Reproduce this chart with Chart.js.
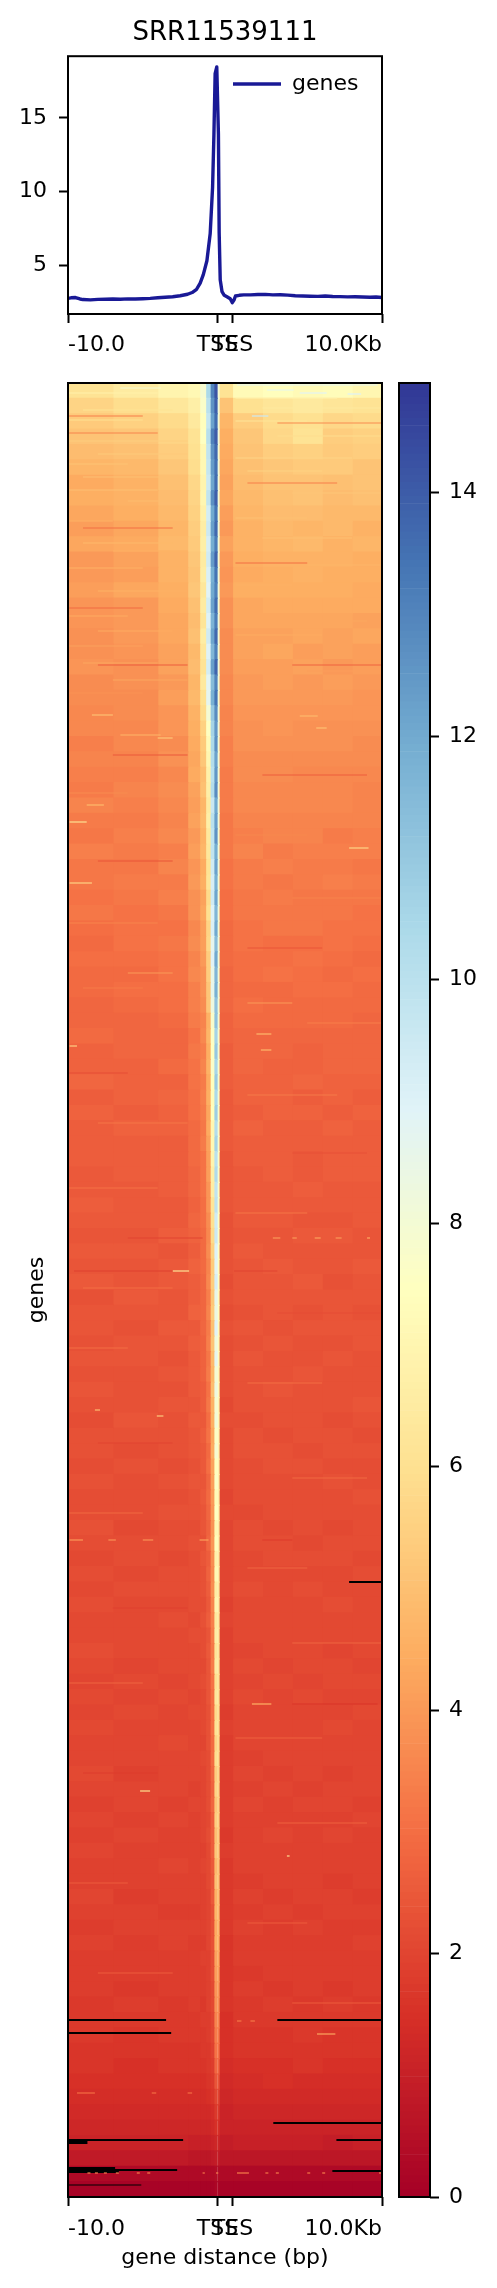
<!DOCTYPE html>
<html>
<head>
<meta charset="utf-8">
<title>SRR11539111</title>
<script src="https://cdn.jsdelivr.net/npm/chart.js@4/dist/chart.umd.js"></script>
<style>
  html, body { margin: 0; padding: 0; background: #fff; }
  canvas { position: absolute; }
</style>
</head>
<body>
<canvas id="profile" width="392" height="370" style="left:0px;top:0px"></canvas>
<canvas id="heat" width="392" height="1918" style="left:0px;top:370px"></canvas>
<canvas id="cbar" width="105" height="1918" style="left:392px;top:370px"></canvas>
<script>
// axis ticks, in kb (0 = TSS, 1 = TES)
var xTickValues = [-10, 0, 1, 11];
var xTickLabels = ['-10.0', 'TSS', 'TES', '10.0Kb'];
var profileTicks = [5, 10, 15];
var cbarTicks = [0, 2, 4, 6, 8, 10, 12, 14];
var cbarMax = 14.9;

// mean profile
var profileX = [-10,-9.8,-9.5,-9.2,-9,-8.5,-8,-7.5,-7,-6.5,-6,-5.5,-5,-4.5,-4,-3.5,-3,-2.5,-2,-1.7,-1.4,-1.16,-0.95,-0.71,-0.49,-0.33,-0.24,-0.16,-0.05,0.06,0.11,0.18,0.3,0.45,0.63,0.85,0.99,1.1,1.2,1.45,1.75,2.2,2.7,3.2,3.7,4.2,4.7,5.2,5.7,6.2,6.7,7.2,7.7,8.2,8.7,9.2,9.7,10.2,10.6,11];
var profileY = [2.74,2.78,2.8,2.7,2.66,2.64,2.67,2.68,2.7,2.68,2.71,2.7,2.72,2.74,2.78,2.82,2.85,2.92,3.02,3.14,3.36,3.78,4.35,5.3,7.15,10.3,13.9,18.0,18.46,13.9,7.2,4.0,3.2,2.95,2.85,2.72,2.45,2.62,2.9,2.95,2.98,2.98,3.0,3.01,2.98,2.99,2.96,2.92,2.9,2.89,2.88,2.9,2.87,2.86,2.84,2.85,2.83,2.82,2.83,2.8];

// heatmap column edges in kb
var colEdges = [-10,-7,-4,-2,-1.2,-0.8,-0.5,-0.25,0,0.1,1,3,5,7,9,11];

// heatmap values, one row per band of genes from top to bottom
var heatValues = [
[6.1,6.5,6.9,7.1,7.9,10.4,13.0,14.2,8.0,6.1,7.2,7.4,7.2,7.3,7.0],
[5.6,5.9,6.3,6.7,7.7,10.0,12.6,13.9,8.1,5.1,6.0,6.2,6.4,6.2,6.1],
[5.3,5.5,5.8,6.4,7.4,9.7,12.2,13.6,8.0,4.7,5.4,5.8,6.0,5.7,5.8],
[5.1,5.2,5.6,6.1,7.5,10.1,13.1,14.0,8.2,4.5,5.2,5.7,6.1,5.4,5.5],
[4.9,5.0,5.4,6.0,7.1,9.8,12.6,13.7,7.9,4.4,5.1,5.4,5.5,5.3,5.4],
[4.7,4.8,5.2,5.9,7.1,9.7,12.4,13.5,8.1,4.3,5.0,5.2,5.3,5.3,5.1],
[4.4,4.6,5.0,5.7,6.9,9.5,12.1,13.6,8.0,4.2,4.9,5.1,5.1,5.0,5.1],
[4.5,4.6,4.9,5.6,7.0,9.8,12.7,13.9,8.0,4.3,4.8,5.0,5.1,4.9,5.0],
[4.3,4.5,4.8,5.5,6.8,9.3,12.0,13.4,7.9,4.1,4.7,4.9,4.9,4.8,4.8],
[4.1,4.3,4.7,5.4,6.6,9.5,12.3,13.7,8.1,4.0,4.6,4.8,4.7,4.8,4.6],
[4.3,4.4,4.8,5.3,6.7,9.2,11.9,13.2,8.0,4.2,4.6,4.7,4.8,4.6,4.7],
[4.0,4.2,4.6,5.2,6.5,9.4,12.4,13.8,7.9,4.0,4.5,4.6,4.6,4.6,4.5],
[4.0,4.1,4.6,5.1,6.6,9.1,11.8,13.4,8.1,3.9,4.4,4.5,4.6,4.5,4.5],
[4.1,4.3,4.5,5.2,6.3,8.9,12.0,13.1,8.0,4.0,4.5,4.5,4.5,4.5,4.4],
[3.9,4.0,4.4,5.0,6.5,9.3,12.2,13.6,7.9,3.8,4.3,4.4,4.4,4.4,4.4],
[3.9,4.0,4.3,4.9,6.2,9.0,11.7,13.2,8.1,3.8,4.3,4.3,4.3,4.3,4.2],
[3.8,4.0,4.3,5.0,6.6,9.4,12.1,13.7,8.0,3.7,4.2,4.2,4.3,4.2,4.3],
[3.8,3.9,4.2,4.8,6.3,9.0,11.6,13.1,7.9,3.7,4.2,4.3,4.1,4.2,4.1],
[3.9,3.8,4.2,4.9,6.1,9.3,12.3,13.8,8.1,3.7,4.1,4.1,4.2,4.0,4.1],
[3.7,3.8,4.0,4.7,6.4,8.8,11.4,13.0,8.0,3.6,4.0,4.1,4.0,4.1,4.0],
[3.7,3.7,4.1,4.8,6.0,8.7,11.8,13.4,7.9,3.6,4.0,4.0,4.0,4.0,3.9],
[3.6,3.7,3.9,4.6,5.8,8.0,11.0,12.8,8.0,3.5,3.9,3.9,3.9,3.9,3.9],
[3.6,3.6,3.9,4.5,5.5,7.5,10.6,12.5,8.1,3.5,3.8,3.9,3.8,3.8,3.8],
[3.4,3.6,3.7,4.4,5.3,7.2,10.4,12.7,7.9,3.4,3.8,3.8,3.8,3.8,3.7],
[3.5,3.5,3.8,4.3,5.2,7.0,10.2,12.2,8.0,3.4,3.7,3.7,3.7,3.7,3.7],
[3.4,3.4,3.6,4.4,4.9,6.8,10.0,12.5,8.0,3.3,3.7,3.7,3.6,3.6,3.6],
[3.3,3.5,3.7,4.2,5.0,6.7,10.2,12.8,7.9,3.3,3.6,3.6,3.6,3.6,3.5],
[3.5,3.4,3.6,4.1,4.7,6.5,9.6,12.0,8.1,3.3,3.6,3.6,3.6,3.6,3.5],
[3.3,3.3,3.5,4.2,4.8,6.7,10.0,12.3,8.0,3.2,3.5,3.5,3.5,3.5,3.5],
[3.2,3.4,3.6,4.0,4.6,6.4,9.8,12.6,7.9,3.2,3.4,3.5,3.5,3.3,3.4],
[3.4,3.3,3.4,4.1,4.7,6.3,9.8,11.9,8.0,3.2,3.5,3.3,3.4,3.4,3.4],
[3.2,3.2,3.5,3.9,4.4,6.1,9.4,12.2,8.1,3.1,3.3,3.4,3.3,3.3,3.2],
[3.2,3.3,3.3,4.0,4.5,6.2,9.2,11.8,7.9,3.1,3.3,3.2,3.3,3.4,3.3],
[3.1,3.2,3.4,3.8,4.2,5.8,9.4,12.1,8.0,3.0,3.2,3.3,3.2,3.2,3.2],
[3.2,3.1,3.2,3.8,4.3,6.0,9.0,11.6,8.0,3.0,3.2,3.2,3.2,3.2,3.1],
[3.0,3.1,3.1,3.6,4.1,5.6,9.1,12.0,7.9,2.9,3.1,3.2,3.2,3.1,3.1],
[2.9,3.1,3.2,3.7,4.1,5.7,8.7,11.4,8.1,2.9,3.1,3.0,3.0,3.1,3.0],
[3.0,3.0,3.1,3.5,4.0,5.4,8.9,12.0,8.0,2.9,3.0,3.0,3.1,3.0,2.9],
[2.9,2.9,3.1,3.6,3.8,5.4,8.5,11.6,7.9,2.8,3.0,3.1,3.0,2.9,3.0],
[2.9,3.0,3.0,3.4,3.8,5.2,8.6,11.8,8.0,2.8,2.9,2.9,3.0,3.0,2.9],
[2.8,2.9,3.0,3.4,3.7,5.2,8.3,11.2,8.0,2.8,3.0,2.9,2.9,2.9,2.9],
[2.8,2.8,2.9,3.3,3.5,4.6,7.8,11.2,7.9,2.7,2.9,2.9,2.9,2.9,2.8],
[2.9,2.8,2.8,3.1,3.6,4.7,7.6,10.6,7.8,2.7,2.8,2.8,2.8,2.8,2.8],
[2.7,2.8,2.8,3.2,3.4,4.5,7.5,11.0,7.9,2.6,2.8,2.8,2.7,2.8,2.8],
[2.7,2.7,2.9,3.1,3.5,4.6,7.7,10.5,7.7,2.6,2.8,2.7,2.7,2.8,2.8],
[2.8,2.7,2.7,3.1,3.3,4.4,7.4,10.9,7.8,2.6,2.7,2.7,2.8,2.7,2.7],
[2.6,2.7,2.8,3.0,3.4,4.5,7.3,10.4,7.8,2.5,2.7,2.7,2.6,2.7,2.6],
[2.7,2.6,2.7,3.0,3.3,4.3,7.4,10.8,7.7,2.5,2.6,2.7,2.7,2.6,2.7],
[2.6,2.7,2.7,2.9,3.2,4.4,7.0,10.2,7.8,2.5,2.7,2.6,2.6,2.7,2.6],
[2.6,2.6,2.6,2.9,3.3,4.2,7.1,10.6,7.7,2.5,2.6,2.6,2.6,2.6,2.6],
[2.6,2.6,2.6,2.9,3.1,4.1,6.9,10.0,7.6,2.4,2.6,2.6,2.5,2.6,2.6],
[2.5,2.6,2.6,2.8,3.1,4.1,6.7,10.3,7.7,2.4,2.5,2.6,2.5,2.6,2.6],
[2.5,2.5,2.6,2.8,3.1,3.9,6.6,9.8,7.6,2.4,2.5,2.5,2.6,2.5,2.5],
[2.6,2.5,2.5,2.7,3.0,3.9,6.2,9.9,7.7,2.4,2.5,2.5,2.5,2.5,2.5],
[2.5,2.5,2.5,2.8,3.0,3.7,6.0,9.4,7.5,2.3,2.5,2.5,2.4,2.4,2.5],
[2.4,2.4,2.6,2.7,2.9,3.6,5.8,9.5,7.6,2.3,2.4,2.4,2.5,2.5,2.4],
[2.5,2.5,2.4,2.6,2.9,3.7,5.5,9.0,7.5,2.3,2.5,2.4,2.4,2.4,2.4],
[2.4,2.4,2.5,2.7,2.9,3.5,5.3,8.8,7.4,2.3,2.4,2.5,2.4,2.4,2.5],
[2.5,2.4,2.5,2.6,2.8,3.6,5.4,9.2,7.5,2.2,2.4,2.4,2.5,2.3,2.4],
[2.3,2.5,2.4,2.6,2.8,3.4,5.2,8.6,7.3,2.3,2.4,2.4,2.4,2.4,2.4],
[2.4,2.4,2.4,2.7,2.8,3.5,5.3,8.4,7.4,2.2,2.3,2.4,2.3,2.4,2.3],
[2.4,2.3,2.5,2.5,2.8,3.3,5.0,8.9,7.3,2.3,2.4,2.3,2.4,2.4,2.4],
[2.3,2.4,2.4,2.6,2.7,3.4,5.1,8.2,7.2,2.2,2.3,2.4,2.3,2.3,2.4],
[2.4,2.4,2.3,2.5,2.7,3.2,4.8,8.7,7.3,2.2,2.4,2.3,2.3,2.4,2.3],
[2.3,2.3,2.4,2.5,2.7,3.3,4.7,8.0,7.1,2.2,2.3,2.3,2.4,2.3,2.3],
[2.4,2.3,2.3,2.5,2.6,3.1,4.9,8.3,7.2,2.2,2.3,2.4,2.3,2.3,2.3],
[2.3,2.3,2.4,2.4,2.6,3.2,4.6,7.9,7.0,2.1,2.3,2.3,2.3,2.3,2.4],
[2.2,2.4,2.3,2.5,2.5,3.0,4.5,8.1,7.1,2.2,2.2,2.3,2.3,2.2,2.3],
[2.3,2.3,2.3,2.4,2.6,3.1,4.3,7.6,7.0,2.1,2.3,2.2,2.3,2.3,2.2],
[2.3,2.2,2.3,2.4,2.5,2.9,4.4,7.9,6.9,2.1,2.3,2.3,2.2,2.3,2.3],
[2.2,2.3,2.2,2.3,2.5,3.0,4.2,7.4,6.9,2.1,2.2,2.3,2.3,2.2,2.2],
[2.3,2.2,2.3,2.4,2.4,2.8,4.1,7.6,6.8,2.1,2.2,2.2,2.2,2.3,2.2],
[2.2,2.2,2.2,2.3,2.5,2.9,4.0,7.2,6.7,2.0,2.2,2.2,2.2,2.2,2.3],
[2.2,2.2,2.3,2.3,2.4,2.8,3.9,7.5,6.8,2.1,2.1,2.2,2.2,2.2,2.2],
[2.3,2.1,2.2,2.2,2.4,2.7,3.8,7.0,6.6,2.0,2.2,2.1,2.2,2.1,2.2],
[2.2,2.2,2.2,2.3,2.3,2.8,3.9,7.3,6.7,2.0,2.2,2.2,2.1,2.2,2.2],
[2.1,2.2,2.1,2.2,2.4,2.6,3.7,6.8,6.5,2.0,2.1,2.2,2.2,2.2,2.1],
[2.2,2.1,2.2,2.2,2.3,2.7,3.6,7.1,6.6,2.0,2.1,2.1,2.1,2.1,2.2],
[2.1,2.2,2.2,2.2,2.3,2.6,3.7,6.6,6.4,2.0,2.2,2.1,2.2,2.1,2.1],
[2.2,2.1,2.1,2.2,2.2,2.5,3.5,6.9,6.5,1.9,2.1,2.1,2.1,2.2,2.1],
[2.1,2.1,2.2,2.1,2.3,2.6,3.4,6.4,6.3,2.0,2.1,2.1,2.1,2.1,2.1],
[2.1,2.1,2.1,2.2,2.2,2.4,3.3,6.6,6.3,1.9,2.1,2.1,2.1,2.1,2.1],
[2.2,2.1,2.1,2.1,2.2,2.5,3.2,6.2,6.2,1.9,2.0,2.1,2.1,2.0,2.1],
[2.1,2.0,2.1,2.1,2.1,2.4,3.3,6.5,6.2,1.9,2.1,2.0,2.1,2.1,2.0],
[2.0,2.1,2.0,2.1,2.2,2.4,3.1,6.0,6.1,1.9,2.0,2.1,2.0,2.1,2.1],
[2.1,2.0,2.1,2.0,2.1,2.4,3.0,6.3,6.1,1.9,2.1,2.0,2.1,2.0,2.0],
[2.0,2.1,2.0,2.1,2.1,2.3,3.0,5.8,6.0,1.8,2.0,2.0,2.0,2.0,2.1],
[2.1,2.0,2.0,2.0,2.1,2.3,3.0,6.1,5.9,1.9,2.0,2.0,2.0,2.1,2.0],
[2.0,2.0,2.1,2.0,2.0,2.3,2.9,5.6,5.9,1.8,2.0,2.0,2.0,2.0,2.0],
[2.0,2.0,2.0,2.0,2.1,2.2,2.9,5.9,5.8,1.8,1.9,2.0,2.0,2.0,2.0],
[2.1,1.9,2.0,2.0,2.0,2.2,2.8,5.4,5.7,1.8,2.0,1.9,2.0,1.9,2.0],
[2.0,2.0,2.0,1.9,2.0,2.2,2.7,5.6,5.6,1.8,1.9,2.0,1.9,2.0,2.0],
[1.9,2.0,1.9,2.0,2.0,2.2,2.8,5.2,5.6,1.8,2.0,1.9,2.0,2.0,1.9],
[2.0,1.9,2.0,1.9,2.0,2.1,2.6,5.4,5.5,1.8,1.9,1.9,1.9,1.9,2.0],
[1.9,2.0,1.9,1.9,2.0,2.2,2.6,5.0,5.4,1.7,1.9,2.0,1.9,2.0,1.9],
[2.0,1.9,1.9,1.9,1.9,2.1,2.6,5.2,5.3,1.8,1.9,1.9,1.9,1.9,1.9],
[1.9,1.9,2.0,1.9,2.0,2.1,2.5,4.8,5.2,1.7,1.9,1.9,1.9,1.9,1.9],
[1.9,1.9,1.9,1.9,1.9,2.1,2.4,5.0,5.1,1.7,1.8,1.9,1.9,1.8,1.9],
[2.0,1.8,1.9,1.9,1.9,2.0,2.5,4.6,5.0,1.7,1.9,1.8,1.9,1.9,1.8],
[1.9,1.9,1.8,1.8,1.9,2.0,2.3,4.7,4.9,1.7,1.8,1.9,1.8,1.9,1.9],
[1.8,1.9,1.9,1.9,1.9,2.0,2.3,4.4,4.8,1.7,1.9,1.8,1.9,1.8,1.8],
[1.9,1.8,1.9,1.8,1.8,2.0,2.3,4.5,4.6,1.6,1.8,1.8,1.8,1.8,1.9],
[1.8,1.8,1.8,1.8,1.9,1.9,2.2,4.2,4.4,1.6,1.8,1.8,1.8,1.8,1.8],
[1.8,1.8,1.8,1.8,1.8,1.9,2.2,4.1,4.2,1.6,1.7,1.8,1.8,1.8,1.8],
[1.8,1.7,1.8,1.8,1.8,1.9,2.1,3.9,4.0,1.6,1.8,1.7,1.8,1.7,1.8],
[1.7,1.8,1.7,1.8,1.7,1.9,2.1,3.8,3.8,1.6,1.7,1.8,1.7,1.8,1.7],
[1.7,1.7,1.7,1.7,1.8,1.8,2.0,3.5,3.6,1.5,1.7,1.7,1.7,1.7,1.7],
[1.7,1.6,1.7,1.7,1.7,1.8,2.0,3.3,3.3,1.5,1.6,1.6,1.7,1.6,1.6],
[1.6,1.6,1.6,1.6,1.7,1.7,1.9,3.1,3.1,1.5,1.6,1.6,1.6,1.6,1.6],
[1.6,1.5,1.6,1.6,1.6,1.7,1.8,2.8,2.8,1.4,1.5,1.5,1.6,1.5,1.5],
[1.5,1.5,1.5,1.5,1.5,1.6,1.7,2.4,2.4,1.3,1.4,1.5,1.4,1.4,1.4],
[1.4,1.4,1.4,1.4,1.4,1.5,1.6,2.0,2.0,1.2,1.3,1.3,1.3,1.3,1.3],
[1.3,1.3,1.3,1.3,1.3,1.3,1.4,1.7,1.7,1.1,1.2,1.2,1.2,1.2,1.2],
[1.2,1.2,1.2,1.2,1.2,1.2,1.3,1.5,1.5,1.1,1.1,1.1,1.1,1.1,1.1],
[1.1,1.1,1.1,1.0,1.0,1.0,1.1,1.2,1.2,0.9,1.0,1.0,1.0,0.9,1.0],
[0.8,0.8,0.8,0.7,0.7,0.7,0.8,0.9,0.9,0.7,0.7,0.7,0.7,0.7,0.7],
[0.3,0.3,0.3,0.3,0.3,0.3,0.3,0.4,0.4,0.3,0.3,0.3,0.3,0.3,0.3],
[0.1,0.1,0.1,0.1,0.1,0.1,0.1,0.2,0.2,0.1,0.1,0.1,0.1,0.1,0.1]
];

// single genes that stand out from their band: [rank, from kb, to kb, value]
var streaks = [
[2,1.3,10.7,8.8],[5,-6.5,-3.8,8.0],[7,3.3,5.1,8.5],[10,5.5,7.3,8.8],[11,8.7,9.6,9.0],[33,2.3,3.4,9.5],
[10,-10,-4,6.8],[27,-9,-3,6.1],[37,-10,-5,6.0],[58,-10,-2,5.4],[71,-8,-2,5.3],[81,-10,-6,5.1],[94,-9,-3,5.0],
[107,-10,-4,5.0],[118,-6,-2,4.9],[138,-10,-7,4.6],[160,-9,-3,4.8],[168,-7,-2,4.5],[185,-10,-5,4.6],[208,-8,-2,4.6],
[233,-10,-6,4.4],[248,-8,-3,4.4],[263,-10,-5,4.2],[280,-9,-4,4.3],[297,-7,-2,4.3],
[15,1.2,8,6.9],[25,3,11,6.4],[38,1.2,6,6.2],[53,4,11,5.9],[75,1.2,9,5.6],[88,2,7,5.5],[110,5,11,5.2],[135,1.2,6,5.0],
[155,3,9,5.0],[182,6,11,4.7],[202,1.2,5,4.6],[238,4,10,4.3],[252,1.2,7,4.4],[288,6,11,4.1],
[33,-10,-5,3.4],[50,-10,-4,3.5],[145,-9,-3,3.0],[225,-10,-5,2.9],[282,-8,-2,2.6],[40,4,11,3.7],[100,2,8,3.4],[180,1.2,6,3.0],[282,5,11,2.7],
[332,-8.4,-7,5.0],[352,-6.5,-3.8,4.7],[355,-4,-3,5.2],[422,-8.75,-7.6,4.8],[333,5.5,6.7,4.8],[345,6.6,7.3,5.0],[439,-9.9,-8.75,6.0],
[465,8.8,10.1,5.6],[500,-9.9,-8.4,5.6],[590,-6,-3,4.0],[620,2,5,4.0],[663,-9.9,-9.4,5.5],[651,2.6,3.6,4.8],[667,2.9,3.6,4.8],
[310,-10,-5,3.8],[325,2,9,3.9],[372,-7,-2,2.5],[392,3,10,2.6],[410,-10,-6,3.7],[452,1.2,6,3.6],[478,-8,-3,2.4],[515,5,11,3.5],[540,-10,-4,3.5],[565,2,7,2.4],
[605,-9,-5,3.3],[640,6,11,3.4],[690,-10,-6,2.2],[712,2,8,3.3],[740,-8,-2,3.2],[770,5,10,2.3],[805,-10,-4,3.1],[830,1.2,6,3.2],[905,-9,-3,3.0],[930,4,11,2.2],
[965,-10,-6,3.0],[1000,2,7,3.0],[1060,-8,-3,2.0],[1095,5,10,2.9],[1130,-10,-5,2.9],[1185,2,6,2.8],[1225,-7,-2,1.9],[1260,5,11,2.8],[1300,-10,-5,2.8],[1355,1.2,7,2.7],
[1390,-9,-4,1.8],[1440,4,10,2.7],[1500,-10,-6,2.6],[1540,2,6,2.6],[1590,-8,-3,2.6],[1620,5,11,2.6],
[888,-9.6,-3,1.9],[888,-3,-1.9,6.2],[888,1.1,4,2.0],[855,-6,-1,2.0],[855,3.7,4.2,4.0],[855,5,5.3,4.0],[855,6.5,6.9,4.2],[855,7.9,8.3,4.0],[855,10,10.2,4.4],
[1033,-4.06,-3.62,5.4],[1027,-8.2,-7.86,5.0],[1157,-9.9,-9,4.0],[1157,-7.3,-6.8,3.8],[1157,-5,-4.3,3.8],[1157,-1.2,-0.6,4.2],[1157,3,5,1.8],
[1408,-5.18,-4.51,6.0],[1473,4.64,4.82,6.0],[1321,2.3,3.6,4.6],[1321,5,10.7,1.6],
[1651,6.65,7.88,4.3],[1638,1.3,1.6,3.2],[1638,2.2,2.5,3.2],[1710,-9.4,-8.2,3.0],[1710,-4.4,-4.1,3.0],[1710,-2,-1.7,3.0],
[1790,-8.7,-8.5,3.5],[1790,-8.2,-8,3.5],[1790,-7.6,-7.4,3.4],[1790,-6.8,-6.6,3.5],[1790,-5.4,-5.2,3.4],[1790,-4.7,-4.5,3.4],[1790,-1,-0.85,3.2],
[1790,-0.1,0.05,3.5],[1790,1.3,2.1,3.4],[1790,3.2,3.4,3.2],[1790,3.9,4.1,3.4],[1790,6,6.2,3.2],[1790,7,7.2,3.4],[1790,10.8,11,3.4]
];

// missing data, drawn black: [rank, from kb, to kb, thickness]
var gaps = [
[1199,8.8,11,2],[1637,-10,-3.44,2],[1637,4,11,2],[1650,-10,-3.1,2],[1740,3.73,11,2],[1757,-10,-2.3,2],[1757,7.95,11,2],
[1759,-10,-8.7,4],[1787,-10,-2.7,2],[1786,-10,-6.85,4],[1789,-10,-6.6,2],[1788,7.68,11,2],[1802,-10,-5.1,1.2]
];
var rankMax = 1814;

// matplotlib RdYlBu
var paletteStops = ['#a50026','#d73027','#f46d43','#fdae61','#fee090','#ffffbf','#e0f3f8','#abd9e9','#74add1','#4575b4','#313695'];

function hexToRgb(h) {
  return [parseInt(h.substr(1, 2), 16), parseInt(h.substr(3, 2), 16), parseInt(h.substr(5, 2), 16)];
}

function colorFor(v) {
  var t = Math.max(0, Math.min(1, v / cbarMax)) * (paletteStops.length - 1);
  var i = Math.min(Math.floor(t), paletteStops.length - 2);
  var a = hexToRgb(paletteStops[i]), b = hexToRgb(paletteStops[i + 1]);
  var f = t - i;
  return 'rgb(' + Math.round(a[0] + (b[0] - a[0]) * f) + ',' + Math.round(a[1] + (b[1] - a[1]) * f) + ',' + Math.round(a[2] + (b[2] - a[2]) * f) + ')';
}

Chart.defaults.font.family = '"DejaVu Sans"';
Chart.defaults.font.size = 22;
Chart.defaults.color = '#000';
Chart.defaults.animation = false;

// matplotlib style box round the axes
var framePlugin = {
  id: 'frame',
  afterDraw: function(chart) {
    var a = chart.chartArea, ctx = chart.ctx;
    ctx.save();
    ctx.strokeStyle = '#000';
    ctx.lineWidth = 2;
    ctx.strokeRect(a.left, a.top, a.right - a.left, a.bottom - a.top);
    ctx.restore();
  }
};

// the legend sits inside the axes, upper right
var legendPlugin = {
  id: 'legendSpot',
  afterLayout: function(chart) {
    chart.legend.left = 233;
    chart.legend.top = 73;
  }
};

function tickGrid() {
  return { drawOnChartArea: false, drawTicks: true, tickLength: 9, tickWidth: 2, tickColor: '#000' };
}

function fixedTicks(values) {
  return function(scale) {
    scale.ticks = values.map(function(v) { return { value: v }; });
  };
}

function kbAxis(height, padding) {
  return {
    type: 'linear',
    min: -10,
    max: 11,
    afterBuildTicks: fixedTicks(xTickValues),
    afterFit: function(scale) { scale.height = height; },
    border: { display: false },
    grid: tickGrid(),
    ticks: {
      autoSkip: false,
      maxRotation: 0,
      minRotation: 0,
      align: 'inner',
      padding: padding,
      callback: function(v) { return xTickLabels[xTickValues.indexOf(v)]; }
    }
  };
}

// top panel
new Chart(document.getElementById('profile'), {
  type: 'line',
  data: {
    datasets: [{
      label: 'genes',
      data: profileX.map(function(x, i) { return { x: x, y: profileY[i] }; }),
      borderColor: 'rgba(0,0,139,0.9)',
      backgroundColor: 'rgba(0,0,139,0.9)',
      borderWidth: 3.4,
      borderJoinStyle: 'round',
      pointRadius: 0,
      tension: 0
    }]
  },
  plugins: [framePlugin, legendPlugin],
  options: {
    responsive: false,
    devicePixelRatio: 1,
    layout: { padding: { right: 10 } },
    scales: {
      x: kbAxis(56, 9),
      y: {
        min: 1.68,
        max: 19.19,
        afterBuildTicks: fixedTicks(profileTicks),
        afterFit: function(scale) { scale.width = 68; },
        border: { display: false },
        grid: tickGrid(),
        ticks: { padding: 12 }
      }
    },
    plugins: {
      title: {
        display: true,
        text: 'SRR11539111',
        fullSize: false,
        font: { size: 26, weight: 'normal' },
        padding: { top: 18, bottom: 7 }
      },
      legend: {
        position: 'chartArea',
        align: 'start',
        labels: {
          usePointStyle: true,
          pointStyle: 'line',
          pointStyleWidth: 48,
          padding: 0,
          font: { size: 22 }
        }
      },
      tooltip: { enabled: false }
    }
  }
});

// heatmap: one floating bar per cell, one dataset per column
var rowLabels = heatValues.map(function(r, i) { return String(i); });
var heatDatasets = [];
for (var c = 0; c < colEdges.length - 1; c++) {
  heatDatasets.push({
    type: 'bar',
    order: 2,
    xAxisID: 'x',
    yAxisID: 'y',
    grouped: false,
    barPercentage: 1,
    categoryPercentage: 1,
    inflateAmount: 0.6,
    data: heatValues.map(function() { return [colEdges[c], colEdges[c + 1]]; }),
    backgroundColor: heatValues.map(function(row) { return colorFor(row[c]); })
  });
}

function segment(row, color, width) {
  return {
    type: 'scatter',
    order: 1,
    indexAxis: 'x',
    xAxisID: 'x',
    yAxisID: 'rank',
    showLine: true,
    fill: false,
    pointRadius: 0,
    borderColor: color,
    borderWidth: width,
    borderCapStyle: 'butt',
    data: [{ x: row[1], y: row[0] }, { x: row[2], y: row[0] }]
  };
}
streaks.forEach(function(s) { heatDatasets.push(segment(s, colorFor(s[3]), 1.2)); });
gaps.forEach(function(g) { heatDatasets.push(segment(g, '#000', g[3])); });

var heatX = kbAxis(91, 10);
heatX.title = { display: true, text: 'gene distance (bp)', font: { size: 22 }, padding: { top: 0, bottom: 17 } };

new Chart(document.getElementById('heat'), {
  type: 'bar',
  data: { labels: rowLabels, datasets: heatDatasets },
  plugins: [framePlugin],
  options: {
    responsive: false,
    devicePixelRatio: 1,
    indexAxis: 'y',
    layout: { padding: { top: 13, right: 10 } },
    scales: {
      x: heatX,
      y: {
        type: 'category',
        afterFit: function(scale) { scale.width = 68; },
        border: { display: false },
        grid: { display: false },
        ticks: { display: false },
        title: { display: true, text: 'genes', font: { size: 22 }, padding: { top: 24, bottom: 0 } }
      },
      rank: { type: 'linear', axis: 'y', display: false, offset: false, min: 0, max: rankMax, reverse: true }
    },
    plugins: { legend: { display: false }, tooltip: { enabled: false } }
  }
});

// colour bar
var cbarLevels = [];
for (var k = 0; k < 256; k++) cbarLevels.push(k);
new Chart(document.getElementById('cbar'), {
  type: 'bar',
  data: {
    labels: ['scale'],
    datasets: cbarLevels.map(function(k) {
      var lo = k / 256 * cbarMax, hi = (k + 1) / 256 * cbarMax;
      return {
        grouped: false,
        barPercentage: 1,
        categoryPercentage: 1,
        data: [[lo, hi]],
        backgroundColor: colorFor((lo + hi) / 2)
      };
    })
  },
  plugins: [framePlugin],
  options: {
    responsive: false,
    devicePixelRatio: 1,
    layout: { padding: { left: 7, top: 13, bottom: 91 } },
    scales: {
      x: { display: false },
      y: {
        position: 'right',
        min: 0,
        max: cbarMax,
        afterBuildTicks: fixedTicks(cbarTicks),
        afterFit: function(scale) { scale.width = 67; scale.paddingTop = 0; scale.paddingBottom = 0; },
        border: { display: false },
        grid: tickGrid(),
        ticks: { padding: 10 }
      }
    },
    plugins: { legend: { display: false }, tooltip: { enabled: false } }
  }
});
</script>
</body>
</html>
